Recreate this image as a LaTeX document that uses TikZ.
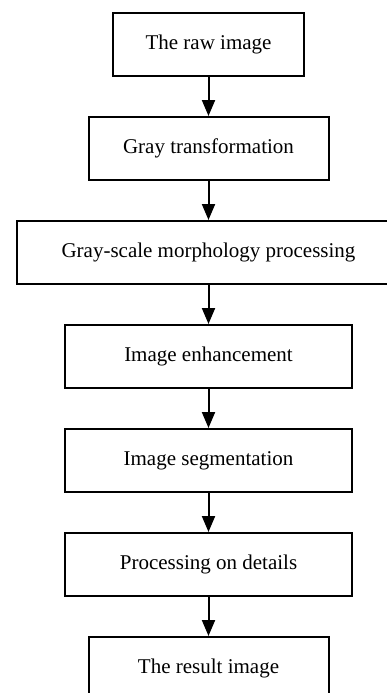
\documentclass[tikz,border=0pt]{standalone}
\usepackage{fontspec}
\setmainfont{Liberation Serif}
\usetikzlibrary{arrows.meta}
\begin{document}
\begin{tikzpicture}[x=1pt,y=-1pt,
  box/.style={draw=black, line width=2pt, fill=white, inner sep=0pt, minimum height=63pt,
    font=\fontsize{21}{25}\selectfont},
  arr/.style={line width=2pt, -{Triangle[length=16pt,width=13pt]}}]
\useasboundingbox (0,0) rectangle (387,693);
\clip (0,0) rectangle (387,693);
\fill[white] (0,0) rectangle (387,693);
\node[box, minimum width=191pt] (raw)   at (208.5,44.5)  {The raw image};
\node[box, minimum width=240pt] (gray)  at (208.5,148.5) {Gray transformation};
\node[box, minimum width=383pt] (morph) at (208.5,252.5) {Gray-scale morphology processing};
\node[box, minimum width=287pt] (enh)   at (208.5,356.5) {Image enhancement};
\node[box, minimum width=287pt] (seg)   at (208.5,460.5) {Image segmentation};
\node[box, minimum width=287pt] (det)   at (208.5,564.5) {Processing on details};
\node[box, minimum width=240pt] (res)   at (208.5,668.5) {The result image};
\draw[arr] (raw.south)   -- (gray.north);
\draw[arr] (gray.south)  -- (morph.north);
\draw[arr] (morph.south) -- (enh.north);
\draw[arr] (enh.south)   -- (seg.north);
\draw[arr] (seg.south)   -- (det.north);
\draw[arr] (det.south)   -- (res.north);
\end{tikzpicture}
\end{document}
